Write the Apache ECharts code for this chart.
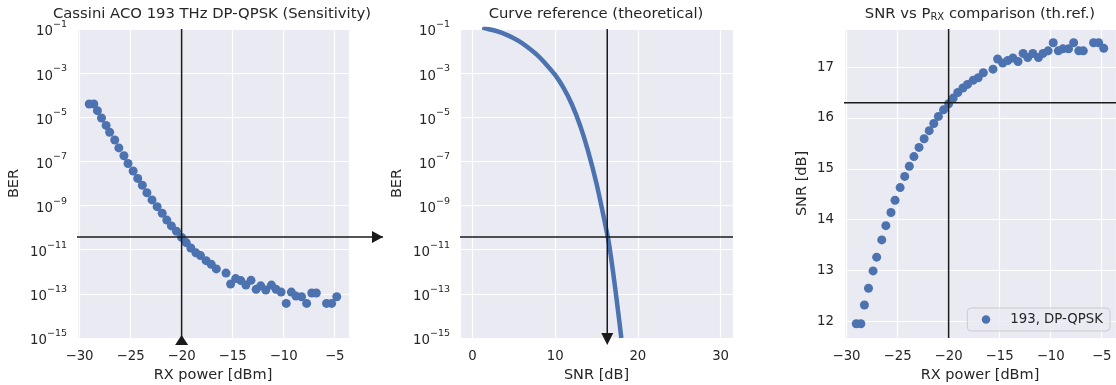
<!DOCTYPE html>
<html>
<head>
<meta charset="utf-8">
<script src="https://cdn.jsdelivr.net/npm/echarts@6/dist/echarts.min.js"></script>
<style>
  html, body { margin: 0; padding: 0; background: #fff; }
  #chart { width: 1116px; height: 385px; }
</style>
</head>
<body>
<div id="chart"></div>
<script>
// measured sweep (shared x for panels 1 and 3)
const rxPower = [-29.05, -28.6, -28.25, -27.85, -27.4, -27.05, -26.55, -26.15, -25.65, -25.25,
  -24.75, -24.3, -23.85, -23.4, -22.9, -22.4, -21.9, -21.45, -21.0, -20.5,
  -20.0, -19.55, -19.1, -18.6, -18.15, -17.6, -17.1, -16.6, -15.65, -15.2,
  -14.7, -14.2, -13.7, -13.2, -12.7, -12.25, -11.75, -11.2, -10.75, -10.25,
  -9.75, -9.25, -8.8, -8.25, -7.75, -7.25, -6.8, -5.8, -5.3, -4.8]
const berMeasured = [4.0e-5, 4.0e-5, 2.0e-5, 9.3e-6, 4.3e-6, 2.1e-6, 9.3e-7, 4.1e-7, 1.8e-7, 8.1e-8,
  3.7e-8, 1.7e-8, 8.3e-9, 3.8e-9, 1.8e-9, 8.9e-10, 4.5e-10, 2.2e-10, 1.2e-10, 6.8e-11,
  3.6e-11, 2.1e-11, 1.2e-11, 7.2e-12, 5.4e-12, 3.2e-12, 2.2e-12, 1.35e-12, 8.7e-13, 2.8e-13,
  4.9e-13, 4.0e-13, 2.5e-13, 4.1e-13, 1.6e-13, 2.3e-13, 1.5e-13, 2.5e-13, 1.6e-13, 1.2e-13,
  3.7e-14, 1.2e-13, 7.9e-14, 7.4e-14, 3.7e-14, 1.1e-13, 1.1e-13, 3.7e-14, 3.7e-14, 7.4e-14]
const snrMeasured = [11.95, 11.95, 12.32, 12.65, 12.99, 13.26, 13.60, 13.88, 14.14, 14.38,
  14.63, 14.85, 15.05, 15.24, 15.42, 15.59, 15.75, 15.89, 16.03, 16.16,
  16.28, 16.39, 16.50, 16.59, 16.66, 16.74, 16.79, 16.89, 16.96, 17.16,
  17.08, 17.13, 17.18, 17.11, 17.27, 17.19, 17.27, 17.19, 17.27, 17.32,
  17.48, 17.32, 17.36, 17.36, 17.48, 17.32, 17.32, 17.48, 17.48, 17.37]

// theoretical reference curve
const snrRef = [1.2, 1.9, 3, 4, 5, 6, 7, 8, 9, 10, 11, 12, 13, 14, 15, 16, 16.5, 17, 17.5, 18]
const berRef = [1.15e-1, 1.0e-1, 7.9e-2, 5.75e-2, 3.8e-2, 2.3e-2, 1.2e-2, 5.75e-3, 2.3e-3, 8.3e-4, 2.2e-4,
  4.0e-5, 4.5e-6, 2.8e-7, 1.0e-8, 1.8e-10, 2.0e-11, 1.0e-12, 3.5e-14, 1.0e-15]

// reference markers
const refPower = -20
const berThreshold = 3.8e-11
const snrThreshold = 16.3

const legendName = '193, DP-QPSK'
const blue = '#4C72B0'
const ink = '#262626'
const font = 'DejaVu Sans'

// axis ranges
const pRange = [-30.25, -3.6]
const snrRange = [-1.5, 31.5]
const snrYRange = [11.67, 17.75]
const berExpRange = [-15, -1]

const lg = Math.log10
const minus = (v) => (v < 0 ? '\u2212' + Math.abs(v) : String(v))
const powLabel = (v) => '{b|10}{sup|' + minus(v) + '}'

const chart = echarts.init(document.getElementById('chart'))

const grids = [
  { left: 77, top: 29, width: 272, height: 309, show: true },
  { left: 460, top: 29, width: 273, height: 309, show: true },
  { left: 844, top: 29, width: 272, height: 309, show: true },
  // overlay for the arrow that runs from panel 1 towards panel 2
  { left: 77, top: 29, width: 306, height: 309, show: false },
].map((g) => ({ ...g, backgroundColor: '#EAEAF2', borderWidth: 0, containLabel: false, outerBoundsMode: 'none' }))

const splitLine = { show: true, lineStyle: { color: '#ffffff', width: 1.2 } }
const baseAxis = {
  axisLine: { show: false },
  axisTick: { show: false },
  splitLine,
  nameLocation: 'middle',
  nameTextStyle: { color: ink, fontSize: 14.5, fontFamily: font },
}

const xAxis = (gridIndex, range, name, splitNumber) => ({
  ...baseAxis,
  type: 'value',
  gridIndex,
  min: range[0],
  max: range[1],
  splitNumber,
  name,
  nameGap: 29,
  axisLabel: {
    color: ink, fontSize: 13.3, fontFamily: font, margin: 12,
    showMinLabel: false, showMaxLabel: false,
    formatter: minus,
  },
})

const berAxis = (gridIndex) => ({
  ...baseAxis,
  type: 'value',
  gridIndex,
  min: berExpRange[0],
  max: berExpRange[1],
  interval: 2,
  name: 'BER',
  nameGap: 55,
  axisLabel: {
    margin: 10,
    formatter: powLabel,
    rich: {
      b: { color: ink, fontSize: 13.3, fontFamily: font, lineHeight: 19, verticalAlign: 'bottom' },
      sup: { color: ink, fontSize: 9.5, fontFamily: font, lineHeight: 9, verticalAlign: 'top' },
    },
  },
})

const refLine = { color: '#1a1a1a', width: 1.5 }
const guide = (xi, data) => ({
  type: 'line',
  xAxisIndex: xi,
  yAxisIndex: xi,
  data,
  clip: false,
  z: 5,
  silent: true,
  showSymbol: true,
  symbol: 'none',
  itemStyle: { color: '#1a1a1a' },
  lineStyle: refLine,
})

const option = {
  animation: false,
  textStyle: { fontFamily: font },
  title: [
    { text: 'Cassini ACO 193 THz DP-QPSK (Sensitivity)', left: 212 },
    { text: 'Curve reference (theoretical)', left: 596 },
    { text: 'SNR vs P{sub|RX} comparison (th.ref.)', left: 980 },
  ].map((t) => ({
    ...t,
    top: 7,
    padding: 0,
    textAlign: 'center',
    textStyle: {
      color: ink, fontSize: 14.8, fontWeight: 'normal', fontFamily: font,
      rich: {
        sub: { color: ink, fontSize: 10, fontFamily: font, verticalAlign: 'bottom', lineHeight: 12, padding: [6, 0, 0, 0] },
      },
    },
  })),
  legend: {
    right: 6,
    top: 308,
    orient: 'vertical',
    data: [legendName],
    itemWidth: 8.5,
    itemHeight: 8.5,
    padding: [5, 7, 5, 14.5],
    borderColor: '#cccccc',
    borderWidth: 1,
    borderRadius: 4,
    backgroundColor: 'rgba(234,234,242,0.8)',
    textStyle: { color: ink, fontSize: 13.3, fontFamily: font, padding: [0, 0, 0, 15] },
  },
  grid: grids,
  xAxis: [
    xAxis(0, pRange, 'RX power [dBm]', 5),
    xAxis(1, snrRange, 'SNR [dB]', 3),
    xAxis(2, pRange, 'RX power [dBm]', 5),
    { type: 'value', gridIndex: 3, min: 0, max: 1, show: false },
  ],
  yAxis: [
    berAxis(0),
    berAxis(1),
    {
      ...baseAxis,
      type: 'value',
      gridIndex: 2,
      min: snrYRange[0],
      max: snrYRange[1],
      name: 'SNR [dB]',
      nameGap: 34,
      axisLabel: {
        color: ink, fontSize: 13.3, fontFamily: font, margin: 10,
        showMinLabel: false, showMaxLabel: false,
      },
    },
    { type: 'value', gridIndex: 3, min: berExpRange[0], max: berExpRange[1], show: false },
  ],
  series: [
    // panel 1: measured sensitivity
    {
      type: 'scatter',
      xAxisIndex: 0,
      yAxisIndex: 0,
      symbolSize: 9,
      itemStyle: { color: blue, opacity: 1 },
      data: rxPower.map((p, i) => [p, lg(berMeasured[i])]),
    },
    guide(3, [
      [0, lg(berThreshold)],
      { value: [1, lg(berThreshold)], symbol: 'triangle', symbolSize: [12, 11], symbolRotate: -90, symbolOffset: [-5.5, 0] },
    ]),
    guide(0, [
      [refPower, berExpRange[1]],
      { value: [refPower, berExpRange[0]], symbol: 'triangle', symbolSize: [13, 10], symbolOffset: [0, 2] },
    ]),
    // panel 2: theoretical curve
    {
      type: 'line',
      xAxisIndex: 1,
      yAxisIndex: 1,
      smooth: 0.25,
      symbol: 'none',
      lineStyle: { color: blue, width: 4.5 },
      data: snrRef.map((s, i) => [s, lg(berRef[i])]),
    },
    guide(1, [
      [snrRange[0], lg(berThreshold)],
      [snrRange[1], lg(berThreshold)],
    ]),
    guide(1, [
      [snrThreshold, berExpRange[1]],
      { value: [snrThreshold, berExpRange[0]], symbol: 'triangle', symbolSize: [12, 12], symbolRotate: 180, symbolOffset: [0, 1] },
    ]),
    // panel 3: SNR vs received power
    {
      type: 'scatter',
      name: legendName,
      xAxisIndex: 2,
      yAxisIndex: 2,
      symbolSize: 9,
      itemStyle: { color: blue, opacity: 1 },
      data: rxPower.map((p, i) => [p, snrMeasured[i]]),
    },
    guide(2, [
      [pRange[0], snrThreshold],
      [pRange[1], snrThreshold],
    ]),
    guide(2, [
      [refPower, snrYRange[0]],
      [refPower, snrYRange[1]],
    ]),
  ],
}

chart.setOption(option)
</script>
</body>
</html>
